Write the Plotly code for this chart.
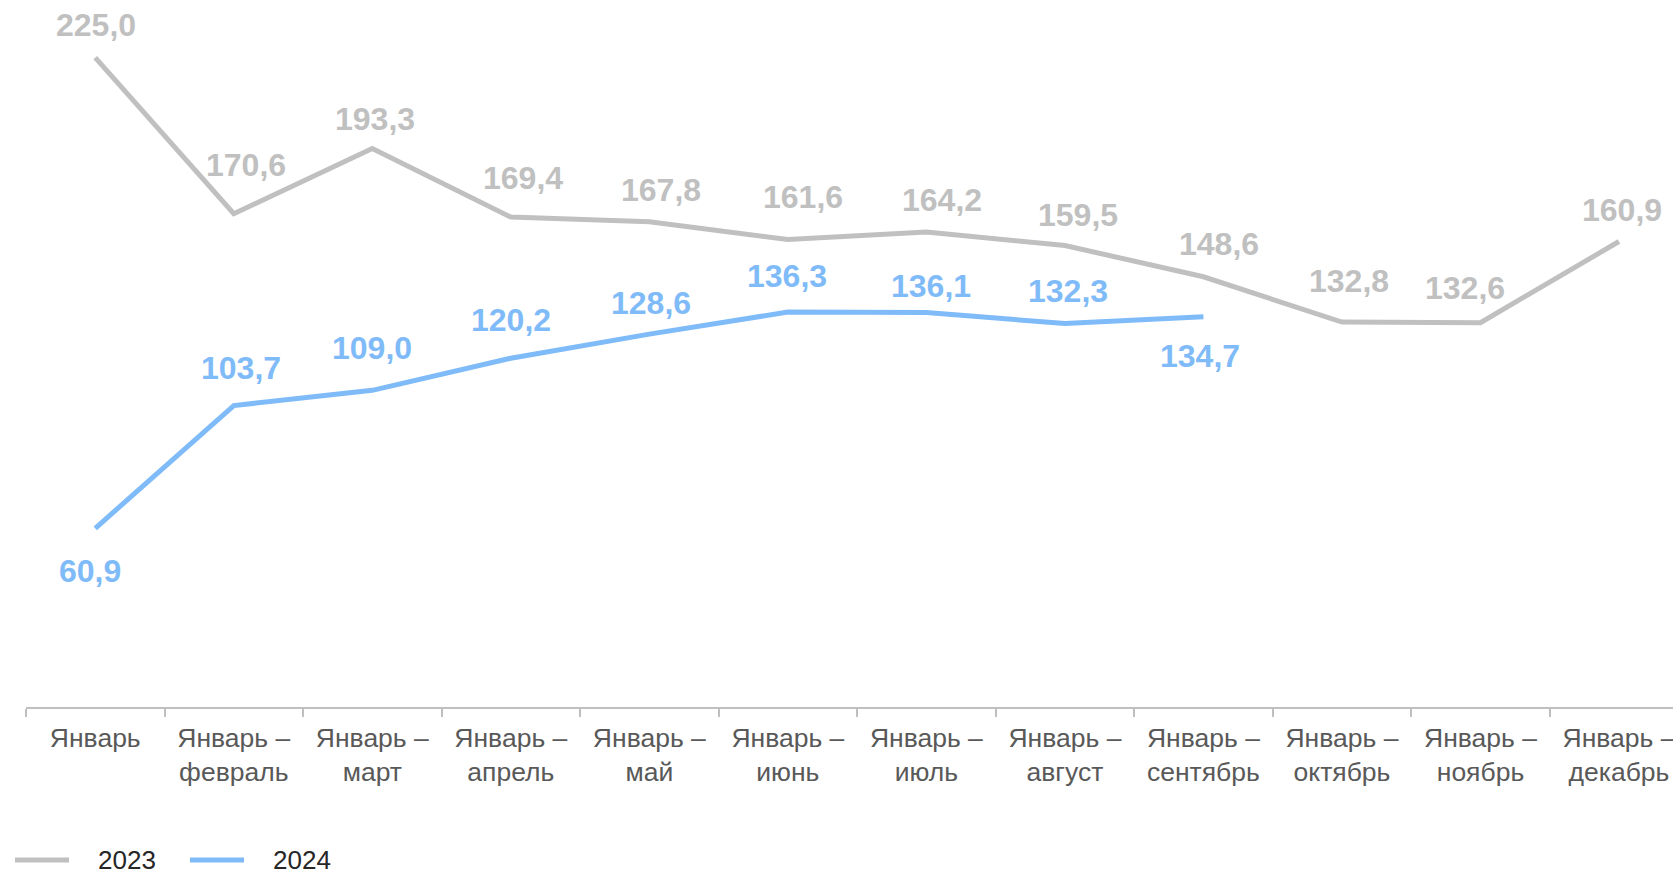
import plotly.graph_objects as go

categories = ["Январь", "Январь – февраль", "Январь – март", "Январь – апрель",
              "Январь – май", "Январь – июнь", "Январь – июль", "Январь – август",
              "Январь – сентябрь", "Январь – октябрь", "Январь – ноябрь", "Январь – декабрь"]
tick_labels = ["Январь", "Январь –<br>февраль", "Январь –<br>март", "Январь –<br>апрель",
               "Январь –<br>май", "Январь –<br>июнь", "Январь –<br>июль", "Январь –<br>август",
               "Январь –<br>сентябрь", "Январь –<br>октябрь", "Январь –<br>ноябрь", "Январь –<br>декабрь"]
values_2023 = [225.0, 170.6, 193.3, 169.4, 167.8, 161.6, 164.2, 159.5, 148.6, 132.8, 132.6, 160.9]
values_2024 = [60.9, 103.7, 109.0, 120.2, 128.6, 136.3, 136.1, 132.3, 134.7]
series_names = ["2023", "2024"]

# label offsets in px (dx, dy up), hand placed like the original
offsets_2023 = [(1, 33), (12, 49), (3, 30), (12, 39), (12, 32), (15, 42),
                (16, 32), (13, 31), (16, 33), (7, 41), (-15, 35), (3, 31)]
offsets_2024 = [(-5, -43), (7, 38), (0, 42), (0, 38), (2, 31), (-1, 36),
                (5, 27), (3, 33), (-3, -39)]

GREY = "#C0C0C0"
BLUE = "#7FBBF8"
FONT = "Liberation Sans"

W, H = 1673, 873
L, R, T, B = 26, 0, 4, 166

fig = go.Figure()
fig.add_trace(go.Scatter(x=categories, y=values_2023, name=series_names[0], mode="lines",
                         line=dict(color=GREY, width=5)))
fig.add_trace(go.Scatter(x=categories[:len(values_2024)], y=values_2024, name=series_names[1],
                         mode="lines", line=dict(color=BLUE, width=5)))


def fmt(v):
    return f"{v:.1f}".replace(".", ",")


for xs, ys, offs, col in [(categories, values_2023, offsets_2023, GREY),
                          (categories, values_2024, offsets_2024, BLUE)]:
    for x, y, (dx, dy) in zip(xs, ys, offs):
        fig.add_annotation(x=x, y=y, text=f"<b>{fmt(y)}</b>", showarrow=False,
                           xshift=dx, yshift=dy, xanchor="center", yanchor="middle",
                           font=dict(family=FONT, size=32, color=col))


# hand-made legend at the bottom left (pixel positions converted to paper coords)
def px_x(px):
    return (px - L) / (W - L - R)


def px_y(py):
    return (H - B - py) / (H - T - B)


legend_items = [(15, 69, 97), (190, 244, 272)]
for (x0, x1, tx), name, col in zip(legend_items, series_names, [GREY, BLUE]):
    fig.add_shape(type="line", xref="paper", yref="paper",
                  x0=px_x(x0), x1=px_x(x1), y0=px_y(860), y1=px_y(860),
                  line=dict(color=col, width=5))
    fig.add_annotation(xref="paper", yref="paper", x=px_x(tx), y=px_y(860),
                       text=name, showarrow=False, xanchor="left", yanchor="middle",
                       borderpad=0,
                       font=dict(family=FONT, size=26, color="#262626"))

fig.update_xaxes(type="category", categoryorder="array", categoryarray=categories,
                 tickvals=categories, ticktext=tick_labels,
                 range=[-0.5, 11.39], showgrid=False, zeroline=False,
                 showline=True, linecolor="#BFBFBF", linewidth=2,
                 tickson="boundaries", ticks="outside", ticklen=8, tickwidth=2,
                 tickcolor="#BFBFBF", tickfont=dict(family=FONT, size=26.5, color="#595959"),
                 ticklabelstandoff=6, automargin=False, fixedrange=True)
fig.update_yaxes(visible=False, range=[-1.4, 243.7], automargin=False, fixedrange=True)

fig.update_layout(width=W, height=H,
                  margin=dict(l=L, r=R, t=T, b=B, autoexpand=False),
                  plot_bgcolor="white", paper_bgcolor="white",
                  showlegend=False)

# drop the default body margin so the figure fills the window exactly
fig.write_html("out.html", config={"displayModeBar": False},
               post_script="document.body.style.margin='0';")
